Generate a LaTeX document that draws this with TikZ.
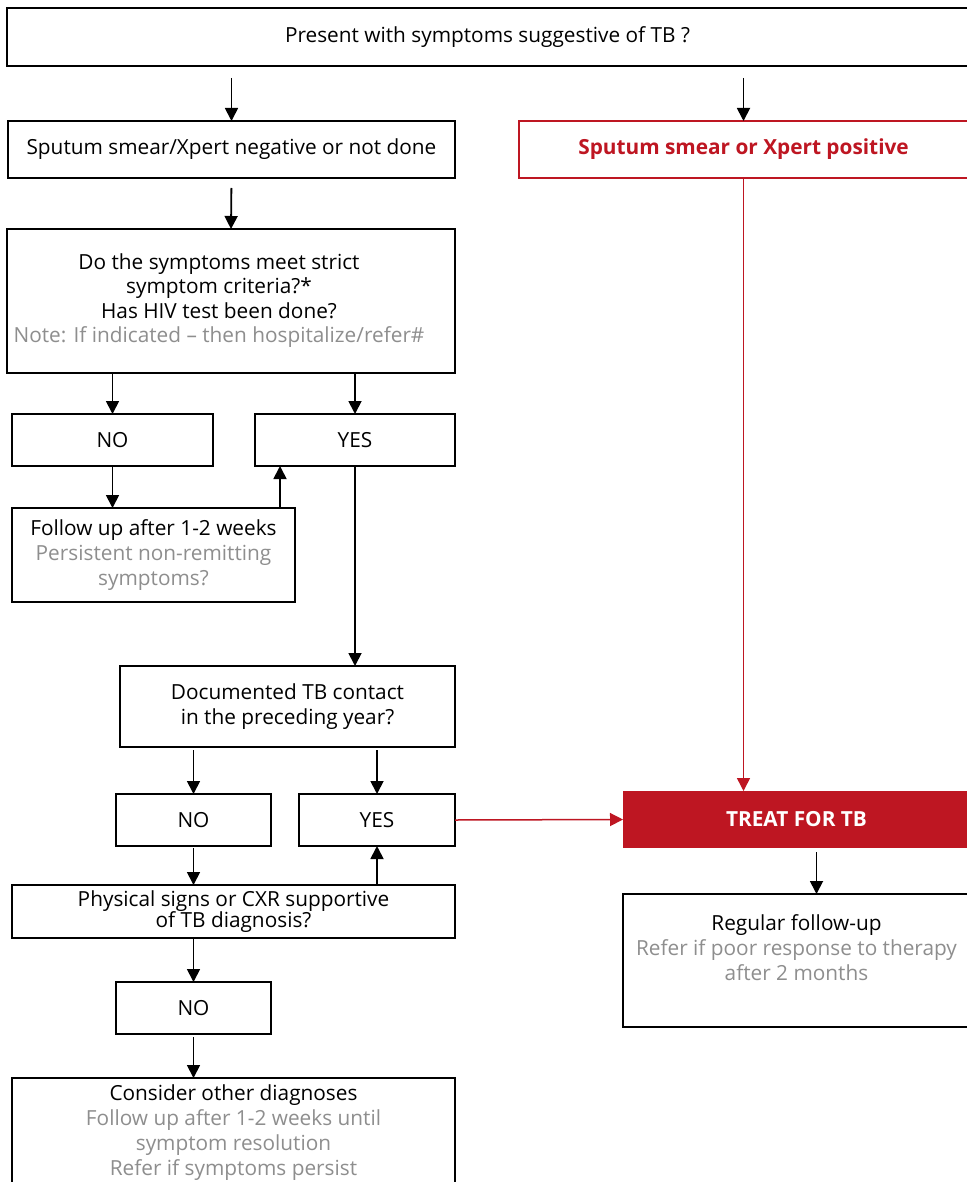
\documentclass[tikz,border=0pt]{standalone}
\usepackage{fontspec}
\setmainfont{Open Sans}
\usetikzlibrary{arrows.meta}
\definecolor{tbred}{HTML}{BE1622}
\definecolor{tbgray}{HTML}{8E8E8E}
\begin{document}
\begin{tikzpicture}[x=1pt,y=-1pt,
  every node/.style={font=\fontsize{20.8}{25}\selectfont},
  box/.style={draw=black,line width=1.8pt,inner sep=0pt,outer sep=0pt,align=center,fill=white},
  redbox/.style={box,draw=tbred,text=tbred,font=\fontsize{20.8}{25}\selectfont\bfseries},
  treatbox/.style={inner sep=0pt,outer sep=0pt,fill=tbred,text=white,font=\fontsize{20.8}{25}\selectfont\bfseries},
  arr/.style={line width=1.8pt,-{Triangle[length=13pt,width=13pt]}},
  redarr/.style={line width=1.5pt,draw=tbred,-{Triangle[length=13pt,width=13pt,fill=tbred]}}]
\useasboundingbox[fill=white] (0,0) rectangle (966,1182);

\node[box,minimum width=961pt,minimum height=58pt] (top) at (487.5,37) {Present with symptoms suggestive of TB ?};
\node[box,minimum width=447pt,minimum height=57pt] (neg) at (231.5,149.5) {Sputum smear/Xpert negative or not done};
\node[redbox,minimum width=449pt,minimum height=57pt] (pos) at (743.5,149.5) {Sputum smear or Xpert positive};
\node[box,minimum width=448pt,minimum height=144pt] (q1) at (231,301) {\hspace*{-24pt}\begin{tabular}{@{}c@{}}Do the symptoms meet strict\\[-0.5pt] symptom criteria?*\\[-0.5pt] Has HIV test been done?\\[-0.5pt] \textcolor{tbgray}{Note: If indicated -- then hospitalize/refer\#}\end{tabular}};
\node[box,minimum width=201pt,minimum height=52pt] (no1) at (112.5,440) {NO};
\node[box,minimum width=200pt,minimum height=52pt] (yes1) at (355,440) {YES};
\node[box,minimum width=283pt,minimum height=94pt] (fu) at (153.5,555) {Follow up after 1-2 weeks\\ \textcolor{tbgray}{Persistent non-remitting}\\ \textcolor{tbgray}{symptoms?}};
\node[box,minimum width=335pt,minimum height=81pt] (doc) at (287.5,706.5) {Documented TB contact\\ in the preceding year?};
\node[box,minimum width=155pt,minimum height=52pt] (no2) at (193.5,820) {NO};
\node[box,minimum width=156pt,minimum height=52pt] (yes2) at (377,820) {YES};
\node[box,minimum width=443pt,minimum height=53pt,font=\fontsize{20.8}{21.5}\selectfont] (phys) at (233.5,911.5) {Physical signs or CXR supportive\\ of TB diagnosis?};
\node[box,minimum width=155pt,minimum height=52pt] (no3) at (193.5,1008) {NO};
\node[box,minimum width=443pt,minimum height=110pt] (cons) at (233.5,1133) {Consider other diagnoses\\ \textcolor{tbgray}{Follow up after 1-2 weeks until}\\ \textcolor{tbgray}{symptom resolution}\\ \textcolor{tbgray}{Refer if symptoms persist}};
\node[treatbox,minimum width=347pt,minimum height=57pt] (treat) at (796.5,819.5) {TREAT FOR TB};
\node[box,minimum width=347pt,minimum height=133pt] (reg) at (796.5,960.5) {Regular follow-up\\ \textcolor{tbgray}{Refer if poor response to therapy}\\ \textcolor{tbgray}{after 2 months}\\ \mbox{}};

\draw[arr,shorten <=12pt] (top.south -| neg.north) -- (neg.north);
\draw[arr,shorten <=12pt] (top.south -| pos.north) -- (pos.north);
\draw[arr,shorten <=10pt] (neg.south) -- (q1.north);
\draw[arr] (q1.south -| no1.north) -- (no1.north);
\draw[arr] (q1.south -| yes1.north) -- (yes1.north);
\draw[arr] (no1.south) -- (fu.north -| no1.south);
\draw[arr] ([xshift=126.5pt]fu.north) -- ([xshift=126.5pt]fu.north |- yes1.south);
\draw[arr] (yes1.south) -- (yes1.south |- doc.north);
\draw[arr,shorten <=3pt] (doc.south -| no2.north) -- (no2.north);
\draw[arr,shorten <=3pt] (doc.south -| yes2.north) -- (yes2.north);
\draw[redarr] (yes2.east) -- (treat.west);
\draw[arr,shorten <=2pt] (no2.south) -- (no2.south |- phys.north);
\draw[arr] (phys.north -| yes2.south) -- (yes2.south);
\draw[arr] (phys.south -| no3.north) -- (no3.north);
\draw[arr,shorten <=3pt] (no3.south) -- (no3.south |- cons.north);
\draw[redarr] (pos.south) -- (pos.south |- treat.north);
\draw[arr,shorten <=4pt] ([xshift=20pt]treat.south) -- ([xshift=20pt]reg.north);
\end{tikzpicture}
\end{document}
